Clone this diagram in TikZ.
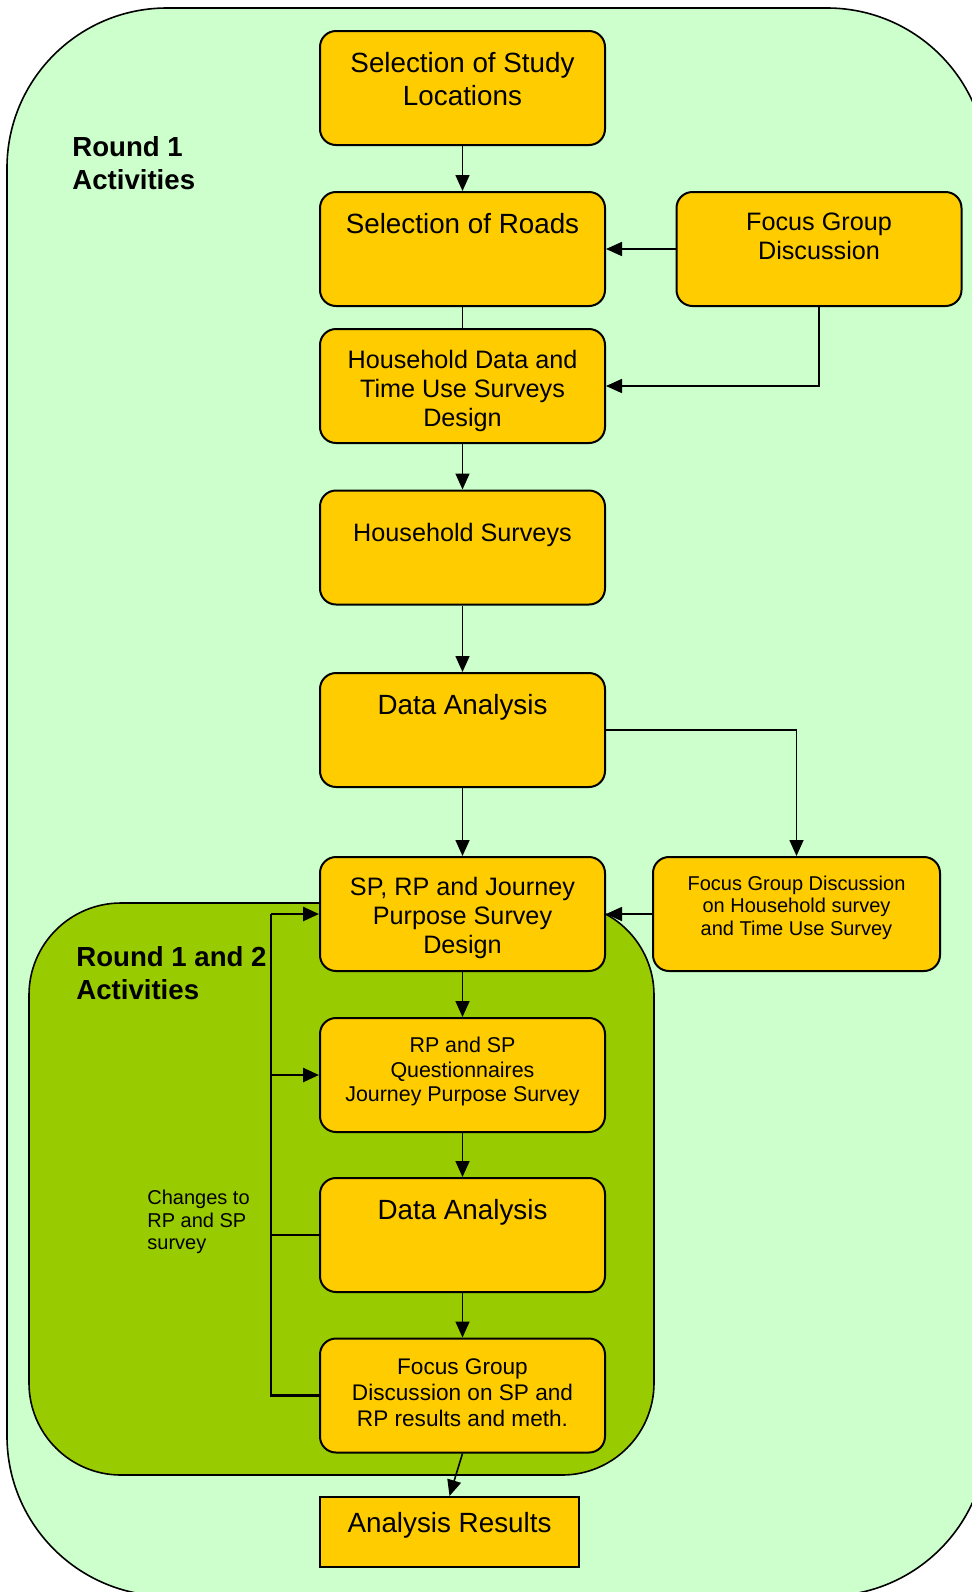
\documentclass[tikz,border=0pt]{standalone}
\usepackage{fontspec}
\setmainfont{Liberation Sans}
\usetikzlibrary{arrows.meta}
\definecolor{palegreen}{HTML}{CCFFCC}
\definecolor{leafgreen}{HTML}{99CC00}
\definecolor{boxgold}{HTML}{FFCC00}
\tikzset{stage/.style={rectangle,draw,fill=boxgold,rounded corners=8pt,minimum width=142.5pt,minimum height=57pt,inner sep=0pt,line width=1pt},stagetext/.style={anchor=north,align=center,inner sep=0pt,yshift=-11pt},bigtext/.style={font=\fontsize{13.9}{16.3}\selectfont},midtext/.style={font=\fontsize{12.6}{14.5}\selectfont},smalltext/.style={font=\fontsize{10}{11.4}\selectfont},roundtitle/.style={anchor=west,align=left,inner sep=0pt,font=\fontsize{13.8}{16.8}\selectfont\bfseries},flow/.style={-{Triangle[length=8pt,width=7pt]},line width=0.8pt},feedback/.style={line width=1.3pt},every picture/.style={line cap=butt}}

\begin{document}
\begin{tikzpicture}[x=0.5pt,y=-0.5pt]
\useasboundingbox (0,0) rectangle (971,1592);
% activity regions
\draw[line width=0.8pt,fill=palegreen,rounded corners=80pt] (7,8) rectangle (987,1596);
\draw[line width=0.8pt,fill=leafgreen,rounded corners=46pt] (29,903) rectangle (654,1475);
\node[roundtitle] (r1) at (72,163) {Round 1\\Activities};
\node[roundtitle] (r12) at (76,973) {Round 1 and 2\\Activities};
% round 1
\node[stage,label={[stagetext,bigtext]north:{Selection of Study\\Locations}}] (b1) at (462.5,88) {};
\node[stage,label={[stagetext,bigtext]north:{Selection of Roads}}] (b2) at (462.5,249) {};
\node[stage,label={[stagetext,midtext,yshift=0.5pt]north:{Focus Group\\Discussion}}] (fg1) at (819,249) {};
\node[stage,label={[stagetext,midtext]north:{Household Data and\\Time Use Surveys\\Design}}] (b3) at (462.5,386) {};
\node[stage,label={[stagetext,midtext,yshift=-5.8pt]north:{Household Surveys}}] (b4) at (462.5,547.5) {};
\node[stage,label={[stagetext,bigtext]north:{Data Analysis}}] (b5) at (462.5,730) {};
\node[stage,label={[stagetext,midtext,yshift=0.5pt]north:{SP, RP and Journey\\Purpose Survey\\Design}}] (b6) at (462.5,914) {};
\node[stage,minimum width=143.5pt,label={[stagetext,smalltext,yshift=1.4pt]north:{Focus Group Discussion\\on Household survey\\and Time Use Survey}}] (fg2) at (796.5,914) {};
% round 1 and 2
\node[stage,label={[stagetext,font=\fontsize{10.7}{12.2}\selectfont,yshift=1pt]north:{RP and SP\\Questionnaires\\Journey Purpose Survey}}] (b7) at (462.5,1075) {};
\node[stage,label={[stagetext,bigtext]north:{Data Analysis}}] (b8) at (462.5,1235) {};
\node[stage,label={[stagetext,font=\fontsize{11.3}{13}\selectfont,yshift=0.5pt]north:{Focus Group\\Discussion on SP and\\RP results and meth.}}] (b9) at (462.5,1395.5) {};
\node[stage,rounded corners=0pt,minimum width=129.5pt,minimum height=35pt,label={[stagetext,bigtext,yshift=2.8pt]north:{Analysis Results}}] (ar) at (449.5,1532) {};
\node[smalltext,anchor=west,align=left,inner sep=0pt] (changes) at (147,1222) {Changes to\\RP and SP\\survey};
% connectors
\foreach \a/\b in {b1/b2,b3/b4,b4/b5,b5/b6,b6/b7,b7/b8,b8/b9}{\draw[flow] (\a.south) -- (\b.north);}
\draw[line width=0.8pt] (b2.south) -- (b3.north);
\draw[flow] (fg1.west) -- (b2.east);
\draw[flow] (fg1.south) |- (b3.east);
\draw[flow] (b5.east) -| (fg2.north);
\draw[flow] (fg2.west) -- (b6.east);
\draw[flow] (b9.south) -- (ar.north);
\coordinate (fbtop) at (271,914);
\draw[feedback] (b9.west) -| (fbtop);
\draw[feedback,flow,line width=1.3pt] (fbtop) -- (b6.west);
\draw[feedback,flow,line width=1.3pt] (b7.west -| fbtop) -- (b7.west);
\draw[feedback] (b8.west) -- (b8.west -| fbtop);
\end{tikzpicture}
\end{document}
